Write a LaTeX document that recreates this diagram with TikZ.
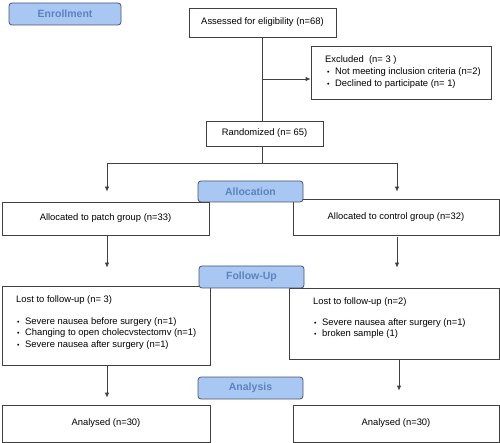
\documentclass[tikz,border=0pt]{standalone}
\usepackage{fontspec}
\setmainfont{Liberation Sans}
\usetikzlibrary{arrows.meta}
\definecolor{hdrfill}{HTML}{A9C7F3}
\definecolor{hdrline}{HTML}{46546E}
\definecolor{hdrtext}{HTML}{5B83BE}
\definecolor{boxline}{HTML}{404040}
\newcommand{\bul}{\makebox[8pt][l]{\scriptsize\textbullet}}

\begin{document}
\begin{tikzpicture}[x=1pt,y=-1pt,
		box/.style={draw=boxline,line width=0.8pt,fill=white,inner sep=0pt,font=\fontsize{9.4}{11.3}\selectfont},
		hdr/.style={draw=hdrline,line width=0.8pt,fill=hdrfill,rounded corners=3pt,minimum width=105pt,minimum height=22pt,inner sep=0pt,text=hdrtext,font=\fontsize{10.5}{12}\selectfont\bfseries},
		txt/.style={anchor=north west,inner sep=0pt,align=left,font=\fontsize{9.4}{11.3}\selectfont},
		arr/.style={-{Latex[length=5pt,width=4.5pt]},line width=0.8pt,draw=boxline},
		link/.style={line width=0.8pt,draw=boxline}]
		\useasboundingbox (0,0) rectangle (500,443);

		% Boxes
		\node[box,minimum width=147pt,minimum height=29pt] (assess) at (262.5,22.5) {Assessed for eligibility (n=68)};
		\node[box,minimum width=180pt,minimum height=53pt] (excl) at (401,72.5) {};
		\node[box,minimum width=117pt,minimum height=25pt] (rand) at (264.5,133.5) {Randomized (n= 65)};
		\node[box,minimum width=207pt,minimum height=33pt] (allocL) at (105.5,218.5) {Allocated to patch group (n=33)};
		\node[box,minimum width=206pt,minimum height=36pt] (allocR) at (396,217) {Allocated to control group (n=32)};
		\node[box,minimum width=208pt,minimum height=79pt] (lostL) at (106,325.5) {};
		\node[box,minimum width=210pt,minimum height=71pt] (lostR) at (394,323.5) {};
		\node[box,minimum width=208pt,minimum height=37pt] (analL) at (106,423.5) {Analysed (n=30)};
		\node[box,minimum width=206pt,minimum height=37pt] (analR) at (396,423.5) {Analysed (n=30)};

		% Box texts
		\node[txt,font=\fontsize{9.4}{12}\selectfont] (exclT) at (325,55) {Excluded~ (n= 3 )\\
			\hspace{2pt}\bul Not meeting inclusion criteria (n=2)\\
			\hspace{2pt}\bul Declined to participate (n=\ 1)};
		\node[txt] (lostLT) at (16,295) {Lost to follow-up (n= 3)\\[11.3pt]
			\hspace{1pt}\bul Severe nausea before surgery (n=1)\\
			\hspace{1pt}\bul Changing to open cholecvstectomv (n=1)\\
			\hspace{1pt}\bul Severe nausea after surgery (n=1)};
		\node[txt] (lostRT) at (313,297) {Lost to follow-up (n=2)\\[10pt]
			\hspace{1pt}\bul Severe nausea after surgery (n=1)\\
			\hspace{1pt}\bul broken sample (1)};

		% Stage headers
		\node[hdr,minimum width=112pt] (enroll) at (65,14) {Enrollment};
		\node[hdr,minimum height=21pt] (alloc) at (250.5,191.5) {Allocation};
		\node[hdr] (follow) at (251.5,277) {Follow-Up};
		\node[hdr] (analysis) at (250.5,388) {Analysis};

		% Connectors
		\draw[link] (assess.south) -- (assess.south |- rand.north);
		\coordinate (exclin) at ([yshift=-6.5pt]excl.west);
		\draw[arr] (assess.south |- exclin) -- (exclin);
		\draw[link] (assess.south |- rand.south) -- ++(0,17) coordinate (split);
		\draw[arr] (split) -| ([xshift=1.5pt,yshift=10pt]allocL.north);
		\draw[arr] (split) -| ([xshift=1pt,yshift=7pt]allocR.north);
		\draw[arr,shorten >=18pt] ([xshift=1.5pt]allocL.south) -- ([xshift=1.5pt]allocL.south |- lostL.north);
		\draw[arr,shorten <=2pt,shorten >=20pt] ([xshift=1pt]allocR.south) -- ([xshift=1pt]allocR.south |- lostR.north);
		\draw[arr,shorten >=7pt] ([xshift=1pt]lostL.south) -- ([xshift=1pt]lostL.south |- analL.north);
		\draw[arr,shorten >=14pt] ([xshift=5pt]lostR.south) -- ([xshift=5pt]lostR.south |- analR.north);
	\end{tikzpicture}
\end{document}
